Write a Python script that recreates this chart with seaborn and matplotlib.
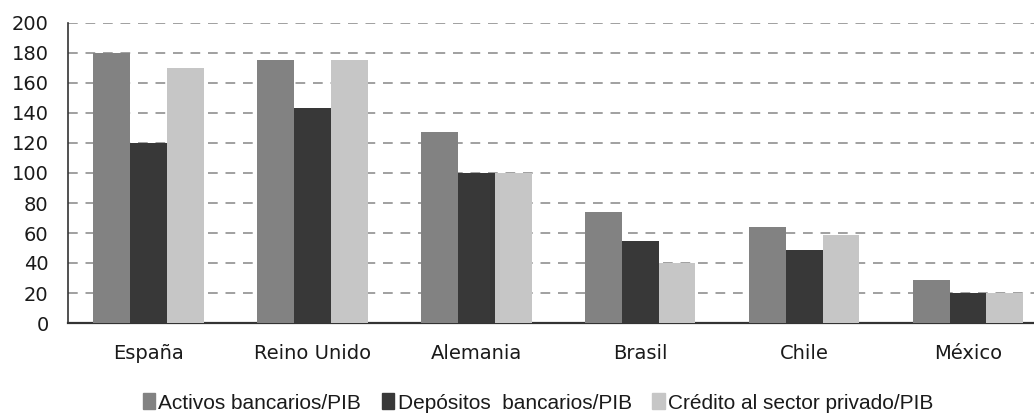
import pandas as pd
import matplotlib.pyplot as plt
import seaborn as sns

# values
paises = ['España', 'Reino Unido', 'Alemania', 'Brasil', 'Chile', 'México']
activos = [180, 175, 127, 74, 64, 29]
depositos = [120, 143, 100, 55, 49, 20]
credito = [170, 175, 100, 40, 59, 20]
series = ['Activos bancarios/PIB', 'Depósitos  bancarios/PIB', 'Crédito al sector privado/PIB']
colores = ['#828282', '#383838', '#c6c6c6']

df = pd.DataFrame({'pais': paises * 3,
                   'serie': [series[0]] * 6 + [series[1]] * 6 + [series[2]] * 6,
                   'valor': activos + depositos + credito})

sns.set_style('white')
plt.rcParams['font.family'] = ['DejaVu Sans']

fig = plt.figure(figsize=(10.34, 4.19), dpi=100)
ax = fig.add_axes([68 / 1034, 96 / 419, 982 / 1034, 300 / 419])

sns.barplot(data=df, x='pais', y='valor', hue='serie', palette=colores,
            width=0.675, saturation=1, legend=False, ax=ax, zorder=3,
            edgecolor='none', linewidth=0)

ax.set_ylim(0, 200)
ax.set_xlim(-0.49, 5.5)
ax.set_yticks(range(0, 201, 20))
ax.yaxis.grid(True, linestyle=(0, (5, 4)), color='#a0a0a0', linewidth=1.4, zorder=0)
ax.set_axisbelow(True)
for s in ['top', 'right']:
    ax.spines[s].set_visible(False)
ax.spines['left'].set_color('#333333')
ax.spines['bottom'].set_color('#333333')
ax.spines['left'].set_linewidth(1.2)
ax.spines['bottom'].set_linewidth(1.6)
ax.tick_params(axis='y', labelsize=14, colors='#1a1a1a', length=0, pad=14)
ax.tick_params(axis='x', labelsize=14, colors='#1a1a1a', length=0, pad=15)
ax.set_xlabel('')
ax.set_ylabel('')

handles = [plt.Rectangle((0, 0), 1, 1, color=c) for c in colores]
fig.legend(handles, series, loc='center', bbox_to_anchor=(538 / 1034, 1 - 403 / 419),
           ncol=3, frameon=False, handlelength=0.6, handleheight=0.8,
           handletextpad=0.15, columnspacing=1.0, labelcolor='#1a1a1a',
           prop={'family': 'Liberation Sans', 'size': 15})

fig.savefig('out.png', dpi=100)
